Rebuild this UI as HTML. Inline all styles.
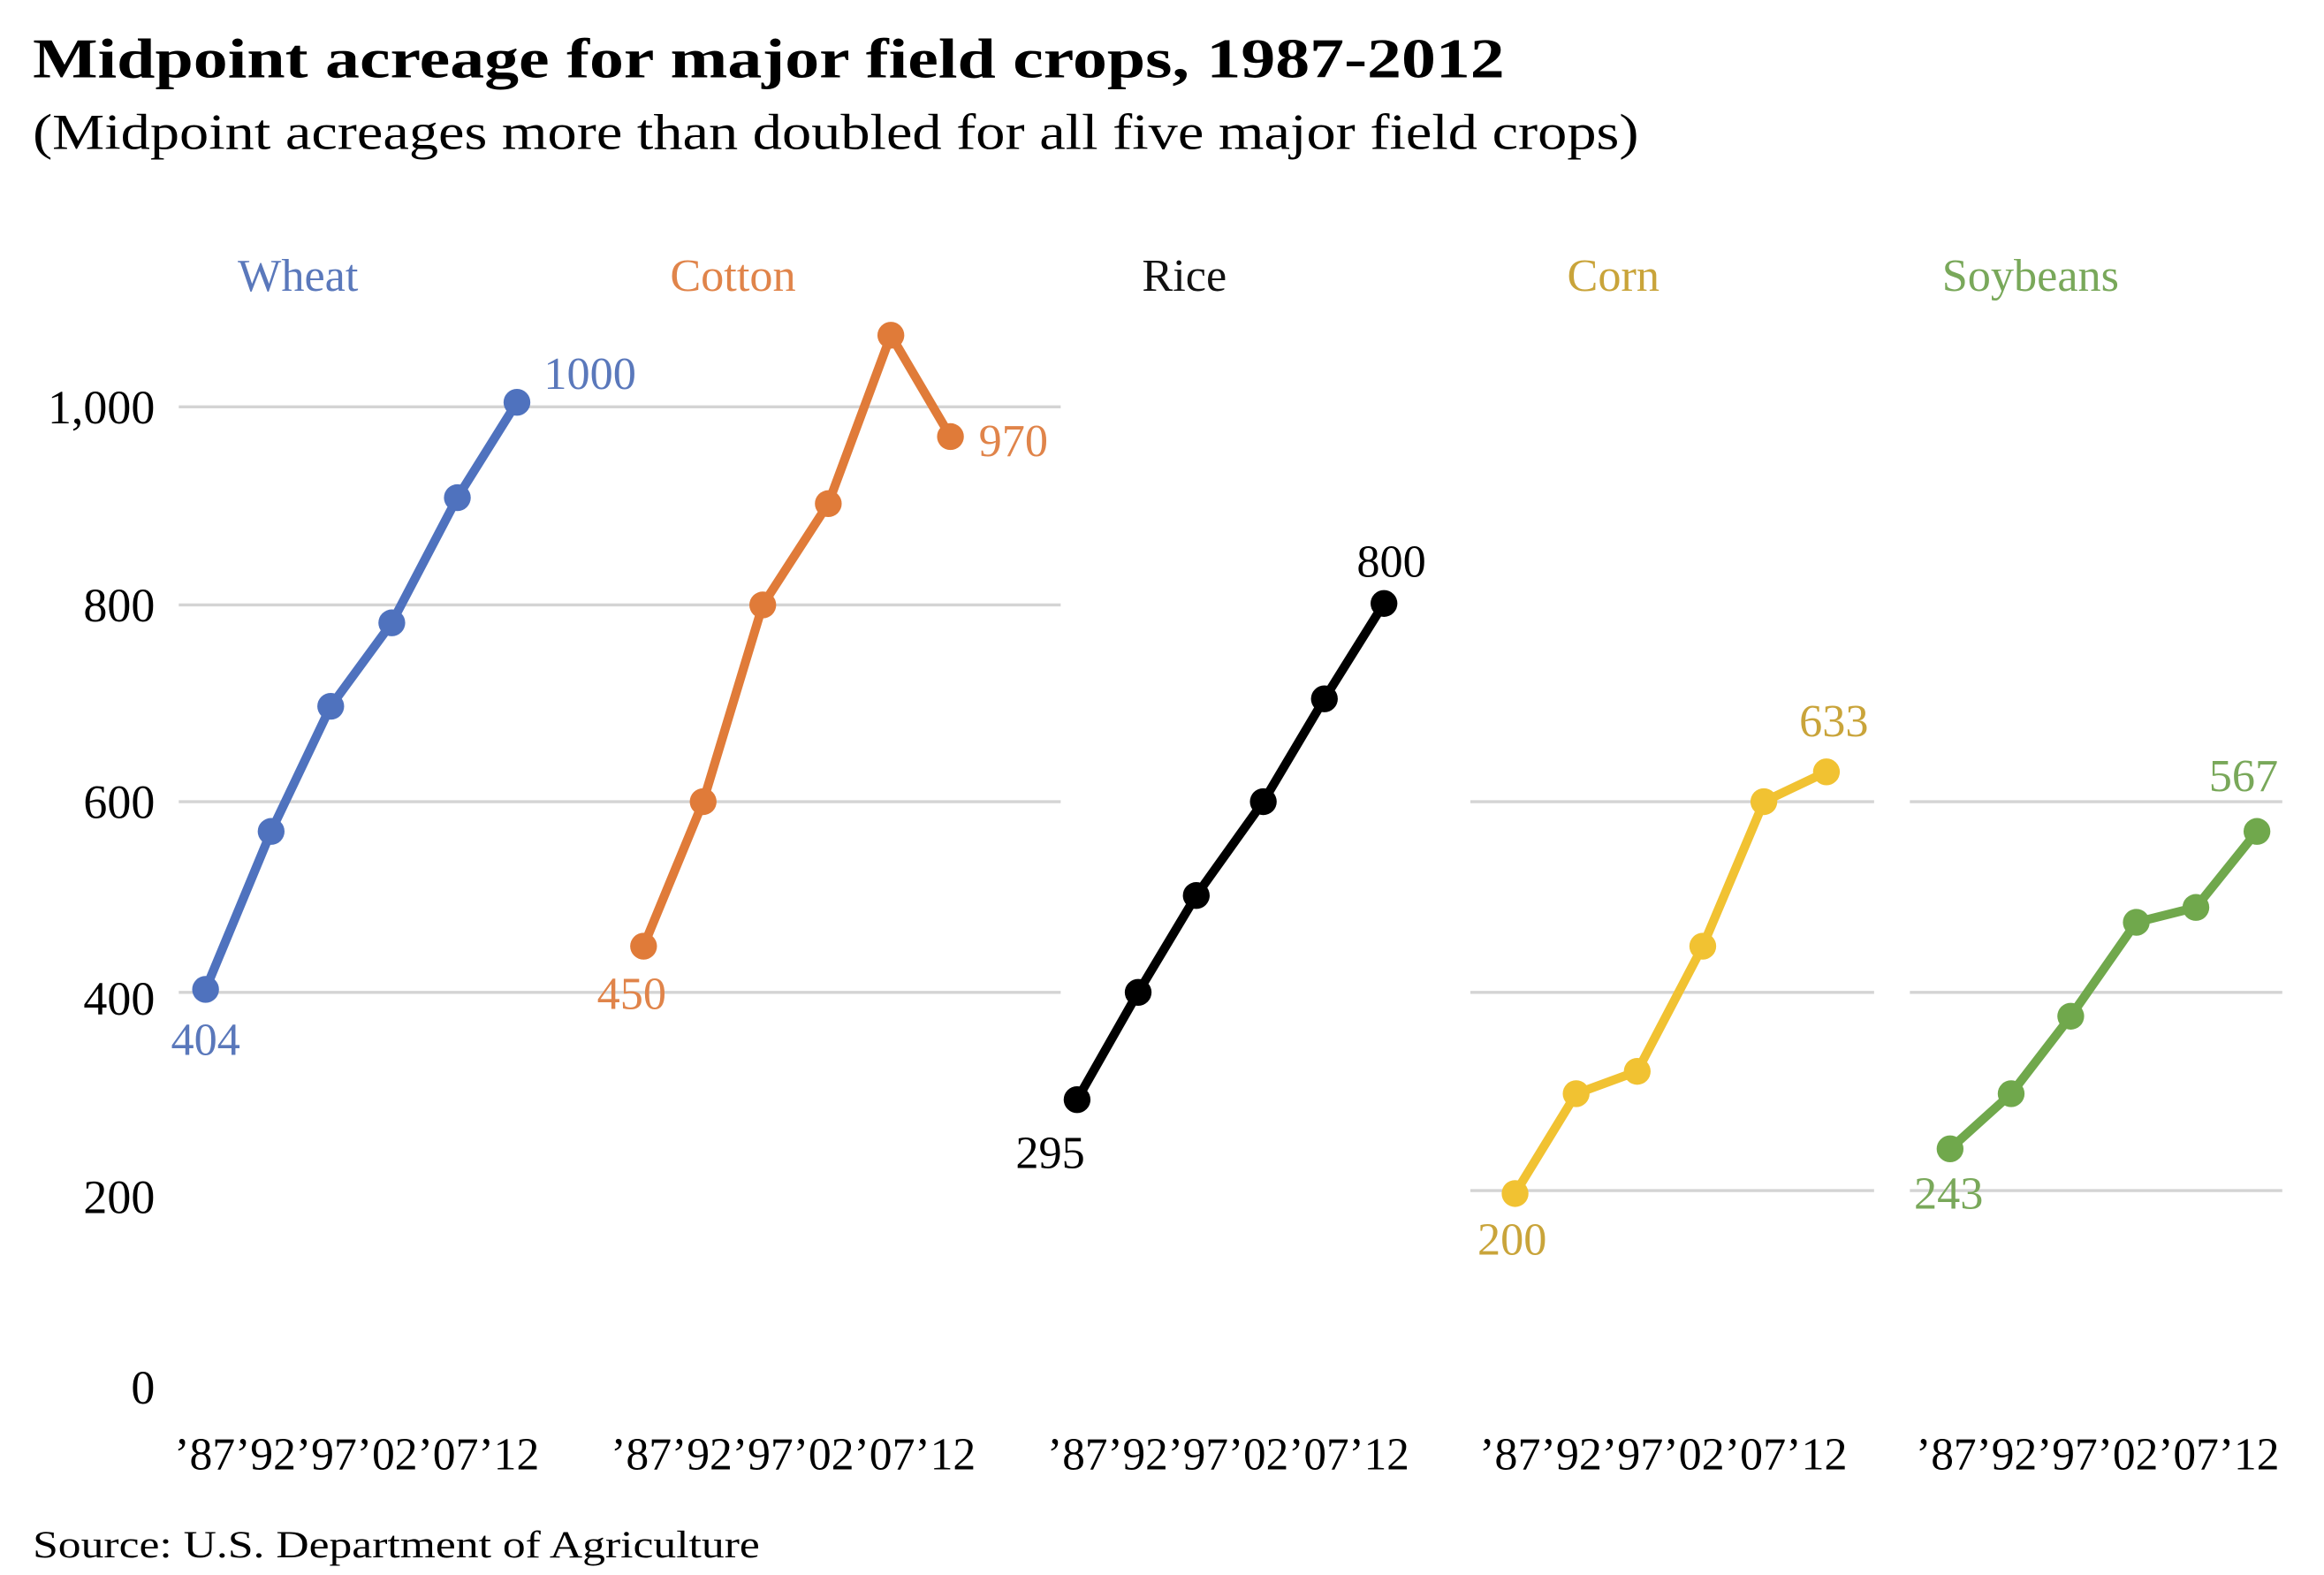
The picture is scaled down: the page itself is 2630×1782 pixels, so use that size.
<!DOCTYPE html>
<html><head><meta charset="utf-8"><style>
html,body{margin:0;padding:0;background:#fff;}
svg{display:block;}
text{font-family:"Liberation Serif",serif;}
</style></head><body>
<svg width="2630" height="1782" viewBox="0 0 1560 1057" xmlns="http://www.w3.org/2000/svg">
<rect width="1560" height="1057" fill="#fff"/>
<text x="22" y="52" font-size="38" font-weight="900" textLength="988" lengthAdjust="spacingAndGlyphs">Midpoint acreage for major field crops, 1987-2012</text>
<text x="22" y="100" font-size="34" textLength="1078" lengthAdjust="spacingAndGlyphs">(Midpoint acreages more than doubled for all five major field crops)</text>
<g font-size="31" text-anchor="middle">
<text x="200" y="195" fill="#5a78bb">Wheat</text>
<text x="492" y="195" fill="#e0844a">Cotton</text>
<text x="795" y="195" fill="#111">Rice</text>
<text x="1083" y="195" fill="#c9a43a">Corn</text>
<text x="1363" y="195" fill="#79a85a">Soybeans</text>
</g>
<g font-size="32" text-anchor="end" fill="#000">
<text x="104" y="284">1,000</text>
<text x="104" y="417">800</text>
<text x="104" y="549">600</text>
<text x="104" y="681">400</text>
<text x="104" y="814">200</text>
<text x="104" y="942">0</text>
</g>
<g stroke="#d4d4d4" stroke-width="2">
<line x1="120" x2="712" y1="273" y2="273"/><line x1="120" x2="712" y1="406" y2="406"/>
<line x1="120" x2="712" y1="538" y2="538"/><line x1="120" x2="712" y1="666" y2="666"/>
<line x1="987" x2="1258" y1="538" y2="538"/><line x1="987" x2="1258" y1="666" y2="666"/><line x1="987" x2="1258" y1="799" y2="799"/>
<line x1="1282" x2="1532" y1="538" y2="538"/><line x1="1282" x2="1532" y1="666" y2="666"/><line x1="1282" x2="1532" y1="799" y2="799"/>
</g>
<g fill="none" stroke-width="6" stroke-linejoin="round">
<polyline stroke="#4f72be" points="138,664 182,558 222,474 263,418 307,334 347,270"/>
<polyline stroke="#e07b39" points="432,635 472,538 512,406 556,338 598,225 638,293"/>
<polyline stroke="#000" points="723,738 764,666 803,601 848,538 889,469 929,405"/>
<polyline stroke="#f1c232" points="1017,801 1058,734 1099,719 1143,635 1184,538 1226,518"/>
<polyline stroke="#70a84c" points="1309,771 1350,734 1390,682 1434,619 1474,609 1515,558"/>
</g>
<g fill="#4f72be"><circle cx="138" cy="664" r="9"/><circle cx="182" cy="558" r="9"/><circle cx="222" cy="474" r="9"/><circle cx="263" cy="418" r="9"/><circle cx="307" cy="334" r="9"/><circle cx="347" cy="270" r="9"/></g>
<g fill="#e07b39"><circle cx="432" cy="635" r="9"/><circle cx="472" cy="538" r="9"/><circle cx="512" cy="406" r="9"/><circle cx="556" cy="338" r="9"/><circle cx="598" cy="225" r="9"/><circle cx="638" cy="293" r="9"/></g>
<g fill="#000"><circle cx="723" cy="738" r="9"/><circle cx="764" cy="666" r="9"/><circle cx="803" cy="601" r="9"/><circle cx="848" cy="538" r="9"/><circle cx="889" cy="469" r="9"/><circle cx="929" cy="405" r="9"/></g>
<g fill="#f1c232"><circle cx="1017" cy="801" r="9"/><circle cx="1058" cy="734" r="9"/><circle cx="1099" cy="719" r="9"/><circle cx="1143" cy="635" r="9"/><circle cx="1184" cy="538" r="9"/><circle cx="1226" cy="518" r="9"/></g>
<g fill="#70a84c"><circle cx="1309" cy="771" r="9"/><circle cx="1350" cy="734" r="9"/><circle cx="1390" cy="682" r="9"/><circle cx="1434" cy="619" r="9"/><circle cx="1474" cy="609" r="9"/><circle cx="1515" cy="558" r="9"/></g>
<g font-size="31">
<text x="138" y="708" text-anchor="middle" fill="#5a78bb">404</text>
<text x="365" y="261" fill="#5a78bb">1000</text>
<text x="424" y="677" text-anchor="middle" fill="#e0844a">450</text>
<text x="657" y="306" fill="#e0844a">970</text>
<text x="934" y="387" text-anchor="middle" fill="#000">800</text>
<text x="705" y="784" text-anchor="middle" fill="#000">295</text>
<text x="1015" y="842" text-anchor="middle" fill="#c9a43a">200</text>
<text x="1231" y="494" text-anchor="middle" fill="#c9a43a">633</text>
<text x="1308" y="811" text-anchor="middle" fill="#79a85a">243</text>
<text x="1506" y="531" text-anchor="middle" fill="#79a85a">567</text>
</g>
<g font-size="31" fill="#000">
<text x="117" y="986" textLength="245" lengthAdjust="spacingAndGlyphs">’87’92’97’02’07’12</text>
<text x="410" y="986" textLength="245" lengthAdjust="spacingAndGlyphs">’87’92’97’02’07’12</text>
<text x="703" y="986" textLength="243" lengthAdjust="spacingAndGlyphs">’87’92’97’02’07’12</text>
<text x="993" y="986" textLength="247" lengthAdjust="spacingAndGlyphs">’87’92’97’02’07’12</text>
<text x="1286" y="986" textLength="244" lengthAdjust="spacingAndGlyphs">’87’92’97’02’07’12</text>
</g>
<text x="22" y="1045" font-size="26" textLength="488" lengthAdjust="spacingAndGlyphs">Source: U.S. Department of Agriculture</text>
</svg>
</body></html>
